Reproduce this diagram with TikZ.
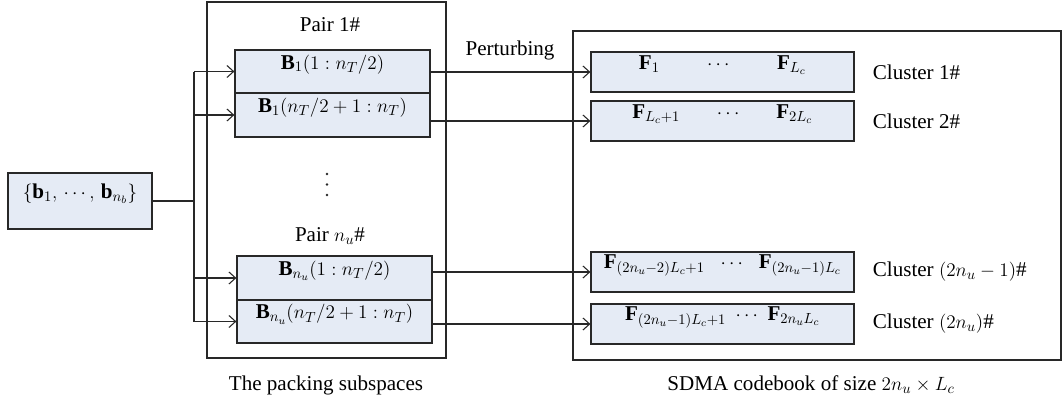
\documentclass[tikz,border=0pt]{standalone}
\usepackage{fontspec}
\setmainfont{Liberation Serif}
\usetikzlibrary{arrows.meta,fit,positioning}
\definecolor{boxfill}{RGB}{229,235,245}
\definecolor{linecol}{RGB}{40,40,40}
\begin{document}
\begin{tikzpicture}[x=0.75pt,y=-0.75pt,
  font=\fontsize{15.8}{19}\selectfont,
  box/.style={draw=linecol, fill=boxfill, line width=0.9pt, inner sep=0pt},
  frame/.style={draw=linecol, line width=0.9pt, inner sep=0pt},
  wire/.style={draw=linecol, line width=0.8pt},
  arr/.style={wire, -{Straight Barb[length=5pt,width=9pt]}},
  lbl/.style={inner sep=0pt},
  node distance=13.5pt]
\useasboundingbox (0,0) rectangle (1062,404);

% frames
\node[frame, fit={(207,2)(446,358)}] (pack) {};
\node[frame, fit={(573,31)(1061,360)}] (code) {};

% input
\node[box, fit={(8,173)(152,229)}] (in) {$\{\mathbf{b}_1,\,\cdots,\,\mathbf{b}_{n_b}\}$};

% packing boxes
\node[box, fit={(235,50)(430,93)}] (B11) {$\mathbf{B}_1(1:n_T/2)$};
\node[box, fit={(235,93)(430,137)}] (B12) {$\mathbf{B}_1(n_T/2+1:n_T)$};
\node[box, fit={(237,256)(432,300)}] (Bn1) {$\mathbf{B}_{n_u}(1:n_T/2)$};
\node[box, fit={(237,300)(432,343)}] (Bn2) {$\mathbf{B}_{n_u}(n_T/2+1:n_T)$};

% codebook boxes
\node[box, fit={(591,52)(854,92)}] (F1) {$\mathbf{F}_1\hspace{2.1em}\cdots\hspace{2.1em}\mathbf{F}_{L_c}$};
\node[box, fit={(591,101)(854,141)}] (F2) {$\mathbf{F}_{L_c+1}\hspace{1.6em}\cdots\hspace{1.6em}\mathbf{F}_{2L_c}$};
\node[box, fit={(591,252)(854,292)}] (F3) {$\mathbf{F}_{(2n_u-2)L_c+1}\hspace{0.6em}\cdots\hspace{0.6em}\mathbf{F}_{(2n_u-1)L_c}$};
\node[box, fit={(591,304)(854,344)}] (F4) {$\mathbf{F}_{(2n_u-1)L_c+1}\hspace{0.3em}\cdots\hspace{0.3em}\mathbf{F}_{2n_uL_c}$};

% cluster labels
\node[lbl, right=of F1] (c1) {Cluster 1\#};
\node[lbl, right=of F2] (c2) {Cluster 2\#};
\node[lbl, right=of F3] (c3) {Cluster $(2n_u-1)$\#};
\node[lbl, right=of F4] (c4) {Cluster $(2n_u)$\#};

% texts
\node[lbl] (p1) at (330,25) {Pair 1\#};
\node[lbl] (pn) at (330,236) {Pair $n_u$\#};
\node[lbl] (pert) at (510,50) {Perturbing};
\node[lbl] (cap1) at (326,385) {The packing subspaces};
\node[lbl] (cap2) at (811,385) {SDMA codebook of size $2n_u\times L_c$};

% vertical ellipsis
\foreach \yy in {174,184.5,195} \fill[linecol] (327,\yy) circle (1.1pt);

% distribution tree
\coordinate (j) at (194,201);
\draw[wire] (in.east) -- (in.east -| j);
\draw[wire] (B11.west -| j) -- (Bn2.west -| j);
\draw[arr] (B11.west -| j) -- (B11.west);
\draw[arr] (B12.west -| j) -- (B12.west);
\draw[arr] (Bn1.west -| j) -- (Bn1.west);
\draw[arr] (Bn2.west -| j) -- (Bn2.west);

% perturbing arrows
\draw[arr] (B11.east |- F1.west) -- (F1.west);
\draw[arr] (B12.east |- F2.west) -- (F2.west);
\draw[arr] (Bn1.east |- F3.west) -- (F3.west);
\draw[arr] (Bn2.east |- F4.west) -- (F4.west);
\end{tikzpicture}
\end{document}
